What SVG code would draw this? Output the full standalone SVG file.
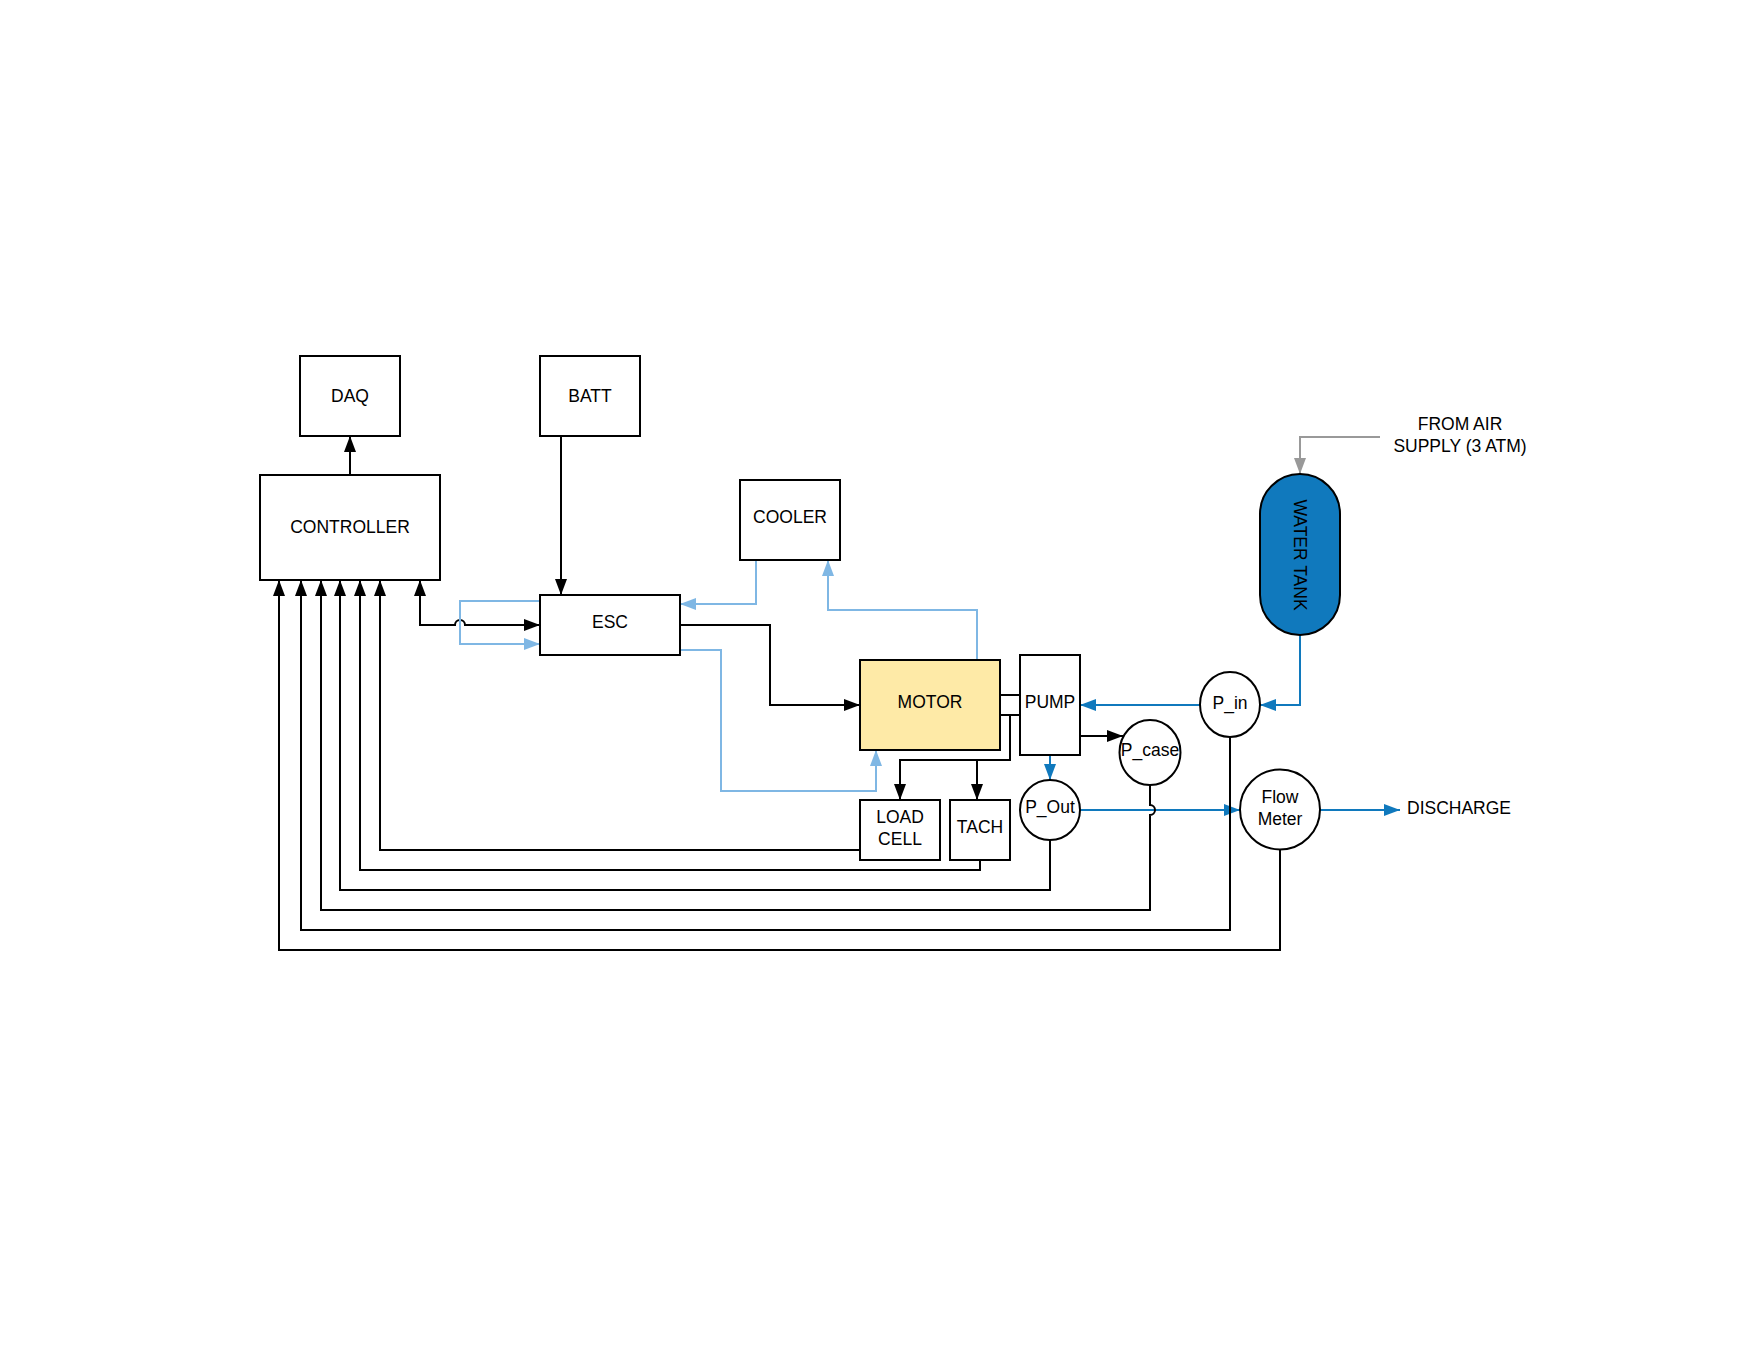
<svg xmlns="http://www.w3.org/2000/svg" width="1760" height="1360" viewBox="0 0 1760 1360">
<style>
.box{fill:#fff;stroke:#000;stroke-width:2}
.t{font-family:"Liberation Sans",Arial,sans-serif;font-size:17.5px;fill:#000;text-anchor:middle}
.k{fill:none;stroke:#000;stroke-width:2}
.lb{fill:none;stroke:#7fb7e4;stroke-width:2}
.bl{fill:none;stroke:#1079bd;stroke-width:2}
.gr{fill:none;stroke:#999;stroke-width:2}
</style>
<defs>
<marker id="ak" viewBox="0 0 16 12" refX="16" refY="6" markerWidth="16" markerHeight="12" markerUnits="userSpaceOnUse" orient="auto"><path d="M0,0 L16,6 L0,12 z" fill="#000"/></marker>
<marker id="aks" viewBox="0 0 16 12" refX="16" refY="6" markerWidth="16" markerHeight="12" markerUnits="userSpaceOnUse" orient="auto-start-reverse"><path d="M0,0 L16,6 L0,12 z" fill="#000"/></marker>
<marker id="alb" viewBox="0 0 16 12" refX="16" refY="6" markerWidth="16" markerHeight="12" markerUnits="userSpaceOnUse" orient="auto"><path d="M0,0 L16,6 L0,12 z" fill="#7fb7e4"/></marker>
<marker id="abl" viewBox="0 0 16 12" refX="16" refY="6" markerWidth="16" markerHeight="12" markerUnits="userSpaceOnUse" orient="auto"><path d="M0,0 L16,6 L0,12 z" fill="#1079bd"/></marker>
<marker id="agr" viewBox="0 0 16 12" refX="16" refY="6" markerWidth="16" markerHeight="12" markerUnits="userSpaceOnUse" orient="auto"><path d="M0,0 L16,6 L0,12 z" fill="#999"/></marker>
</defs>
<rect width="1760" height="1360" fill="#fff"/>

<g id="connectors">
<!-- controller -> DAQ -->
<path class="k" d="M350,475 V436" marker-end="url(#ak)"/>
<!-- BATT -> ESC -->
<path class="k" d="M561,436 V595" marker-end="url(#ak)"/>
<!-- controller <-> ESC with hop -->
<path class="k" d="M420,580 V625 H455 A5,5 0 0 1 465,625 H540" marker-start="url(#aks)" marker-end="url(#ak)"/>
<!-- ESC light blue loop -->
<path class="lb" d="M540,601 H460 V644 H540" marker-end="url(#alb)"/>
<!-- Cooler -> ESC -->
<path class="lb" d="M756,560 V604 H680" marker-end="url(#alb)"/>
<!-- Motor -> Cooler -->
<path class="lb" d="M977,660 V610 H828 V560" marker-end="url(#alb)"/>
<!-- ESC -> Motor black -->
<path class="k" d="M680,625 H770 V705 H860" marker-end="url(#ak)"/>
<!-- ESC -> Motor light blue -->
<path class="lb" d="M680,650 H721 V791 H876 V750" marker-end="url(#alb)"/>
<!-- shaft -->
<path class="k" d="M1000,695 H1020 M1000,715 H1020"/>
<!-- shaft -> load cell / tach -->
<path class="k" d="M1010,715 V760 H900 V800" marker-end="url(#ak)"/>
<path class="k" d="M977,760 V800" marker-end="url(#ak)"/>
<!-- pump -> P_case -->
<path class="k" d="M1080,736 H1123" marker-end="url(#ak)"/>
<!-- pump -> P_out -->
<path class="bl" d="M1050,755 V780" marker-end="url(#abl)"/>
<!-- P_in -> pump -->
<path class="bl" d="M1200,705 H1080" marker-end="url(#abl)"/>
<!-- tank -> P_in -->
<path class="bl" d="M1300,635 V705 H1260" marker-end="url(#abl)"/>
<!-- air supply -> tank -->
<path class="gr" d="M1380,437 H1300 V474" marker-end="url(#agr)"/>
<!-- P_out -> flow meter -->
<path class="bl" d="M1080,810 H1240" marker-end="url(#abl)"/>
<!-- flow meter -> discharge -->
<path class="bl" d="M1320,810 H1400" marker-end="url(#abl)"/>
<!-- sensors -> controller -->
<path class="k" d="M860,850 H380 V580" marker-end="url(#ak)"/>
<path class="k" d="M980,860 V870 H360 V580" marker-end="url(#ak)"/>
<path class="k" d="M1050,840 V890 H340 V580" marker-end="url(#ak)"/>
<path class="k" d="M1150,785 V805 A5,5 0 0 1 1150,815 V910 H321 V580" marker-end="url(#ak)"/>
<path class="k" d="M1230,737 V930 H301 V580" marker-end="url(#ak)"/>
<path class="k" d="M1280,850 V950 H279 V580" marker-end="url(#ak)"/>
</g>

<g id="daq"><rect class="box" x="300" y="356" width="100" height="80"/><text class="t" x="350" y="402">DAQ</text></g>
<g id="batt"><rect class="box" x="540" y="356" width="100" height="80"/><text class="t" x="590" y="402">BATT</text></g>
<g id="controller"><rect class="box" x="260" y="475" width="180" height="105"/><text class="t" x="350" y="533">CONTROLLER</text></g>
<g id="cooler"><rect class="box" x="740" y="480" width="100" height="80"/><text class="t" x="790" y="523">COOLER</text></g>
<g id="esc"><rect class="box" x="540" y="595" width="140" height="60"/><text class="t" x="610" y="628">ESC</text></g>
<g id="motor"><rect x="860" y="660" width="140" height="90" fill="#feeaa7" stroke="#000" stroke-width="2"/><text class="t" x="930" y="708">MOTOR</text></g>
<g id="pump"><rect class="box" x="1020" y="655" width="60" height="100"/><text class="t" x="1050" y="708">PUMP</text></g>
<g id="load-cell"><rect class="box" x="860" y="800" width="80" height="60"/><text class="t" x="900" y="823">LOAD</text><text class="t" x="900" y="845">CELL</text></g>
<g id="tach"><rect class="box" x="950" y="800" width="60" height="60"/><text class="t" x="980" y="833">TACH</text></g>
<g id="p-case"><ellipse class="box" cx="1150" cy="752.5" rx="30.5" ry="32.5"/><text class="t" x="1150" y="756">P_case</text></g>
<g id="p-out"><circle class="box" cx="1050" cy="810" r="30"/><text class="t" x="1050" y="813">P_Out</text></g>
<g id="p-in"><ellipse class="box" cx="1230" cy="704.5" rx="30" ry="32.5"/><text class="t" x="1230" y="709">P_in</text></g>
<g id="flow-meter"><circle class="box" cx="1280" cy="809.5" r="40"/><text class="t" x="1280" y="803">Flow</text><text class="t" x="1280" y="825">Meter</text></g>
<g id="water-tank"><rect x="1260" y="474" width="80" height="161" rx="40" ry="40" fill="#1079bd" stroke="#000" stroke-width="2"/><text class="t" transform="translate(1300,555) rotate(90)" y="6">WATER TANK</text></g>
<g id="air-supply"><text class="t" x="1460" y="430">FROM AIR</text><text class="t" x="1460" y="452">SUPPLY (3 ATM)</text></g>
<g id="discharge"><text class="t" x="1407" y="814" style="text-anchor:start">DISCHARGE</text></g>
</svg>
